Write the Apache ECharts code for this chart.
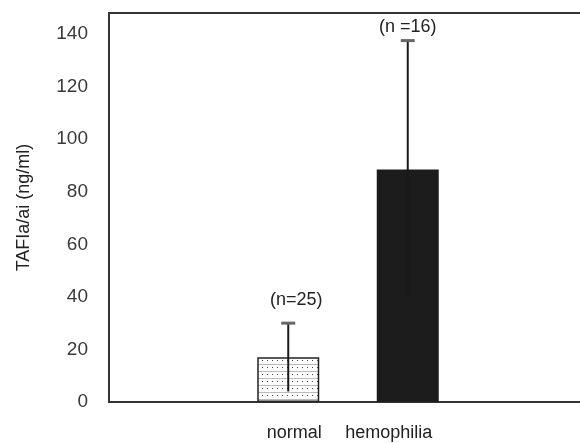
<!DOCTYPE html>
<html>
<head>
<meta charset="utf-8">
<script src="https://cdn.jsdelivr.net/npm/echarts@6/dist/echarts.min.js"></script>
<style>
html, body { margin: 0; padding: 0; background: #fff; }
#main { width: 580px; height: 443px; }
</style>
</head>
<body>
<div id="main"></div>
<script>
// groups (empty slots at both ends keep the bars near the middle)
var categories = ['', 'normal', 'hemophilia', ''];
var means = [null, 17, 88.5, null];
var sds = [null, 13, 49, null];
var nLabels = [null, '(n=25)', '(n =16)', null];
var yTicks = [0, 20, 40, 60, 80, 100, 120, 140];

// label nudges (style only)
var labelDx = [0, 8, 0, 0];
var labelDy = [0, 23, 14, 0];

function dotPattern() {
    var c = document.createElement('canvas');
    c.width = 10; c.height = 7;
    var ctx = c.getContext('2d');
    ctx.fillStyle = '#fff';
    ctx.fillRect(0, 0, 10, 7);
    ctx.fillStyle = '#bbb';
    ctx.fillRect(0, 0, 10, 1);
    ctx.fillStyle = '#444';
    ctx.fillRect(2, 3, 1, 1);
    ctx.fillRect(7, 3, 1, 1);
    return c;
}

var myChart = echarts.init(document.getElementById('main'));

var barData = means.map(function (v, i) {
    if (v === null) return null;
    if (i === 1) {
        return {value: v, itemStyle: {color: {image: dotPattern(), repeat: 'repeat'}, borderColor: '#222', borderWidth: 1.5}};
    }
    return {value: v, itemStyle: {color: '#1c1c1c'}};
});

var errData = [];
means.forEach(function (v, i) {
    if (v !== null) errData.push([i, v - sds[i], v + sds[i]]);
});

var option = {
    animation: false,
    grid: {left: 109, width: 478, top: 13, bottom: 41, outerBoundsMode: 'none'},
    xAxis: [{
        type: 'category',
        data: [
            '',
            {value: 'normal', textStyle: {padding: [0, 0, 0, 12]}},
            {value: 'hemophilia', textStyle: {padding: [0, 38, 0, 0]}},
            ''
        ],
        axisLine: {lineStyle: {color: '#333', width: 2}},
        axisTick: {show: false},
        axisLabel: {color: '#222', fontSize: 18, margin: 22, fontFamily: 'Liberation Sans'}
    }, {
        type: 'category',
        position: 'top',
        data: categories,
        axisLine: {lineStyle: {color: '#333', width: 2}},
        axisTick: {show: false},
        axisLabel: {show: false}
    }],
    yAxis: {
        type: 'value',
        min: 0,
        max: 148,
        interval: 20,
        name: 'TAFIa/ai (ng/ml)',
        nameLocation: 'middle',
        nameGap: 76,
        nameTextStyle: {color: '#222', fontSize: 18, fontFamily: 'Liberation Sans'},
        axisLine: {show: true, lineStyle: {color: '#333', width: 2}},
        axisTick: {show: false},
        splitLine: {show: false},
        axisLabel: {
            color: '#3a3a3a', fontSize: 19, margin: 21, fontFamily: 'Liberation Sans',
            showMaxLabel: false,
            formatter: function (v) { return yTicks.indexOf(v) >= 0 ? String(v) : ''; }
        }
    },
    series: [{
        type: 'bar',
        data: barData,
        barWidth: 62,
        z: 2
    }, {
        type: 'custom',
        data: errData,
        z: 3,
        renderItem: function (params, api) {
            var x = api.value(0);
            var lo = api.coord([x, api.value(1)]);
            var hi = api.coord([x, api.value(2)]);
            return {
                type: 'group',
                children: [{
                    type: 'line',
                    shape: {x1: hi[0], y1: hi[1], x2: lo[0], y2: lo[1]},
                    style: {stroke: '#1a1a1a', lineWidth: 2}
                }, {
                    type: 'line',
                    shape: {x1: hi[0] - 7, y1: hi[1], x2: hi[0] + 7, y2: hi[1]},
                    style: {stroke: '#666', lineWidth: 3}
                }, {
                    type: 'text',
                    x: hi[0] + labelDx[x],
                    y: hi[1] - labelDy[x],
                    style: {
                        text: nLabels[x], textAlign: 'center', textVerticalAlign: 'middle',
                        fill: '#222', fontSize: 18, fontFamily: 'Liberation Sans'
                    }
                }]
            };
        }
    }]
};
myChart.setOption(option);
</script>
</body>
</html>
